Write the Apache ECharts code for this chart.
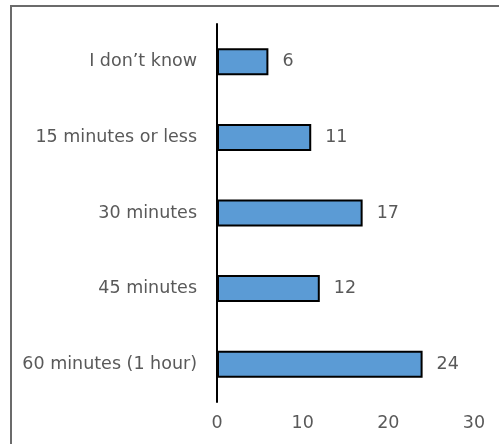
<!DOCTYPE html>
<html>
<head>
<meta charset="utf-8">
<script src="https://cdn.jsdelivr.net/npm/echarts@6/dist/echarts.min.js"></script>
<style>
  html, body { margin: 0; padding: 0; background: #fff; }
  #main { width: 499px; height: 444px; }
</style>
</head>
<body>
<div id="main"></div>
<script>
// categories bottom -> top (category axis goes upward)
var categories = ['60 minutes (1 hour)', '45 minutes', '30 minutes', '15 minutes or less', 'I don\u2019t know'];
var values = [24, 12, 17, 11, 6];
var xTicks = [0, 10, 20, 30];

var chart = echarts.init(document.getElementById('main'));
var font = '"DejaVu Sans", sans-serif';

var option = {
    animation: false,
    backgroundColor: '#fff',
    graphic: [{
        type: 'rect',
        shape: { x: 11, y: 6, width: 600, height: 600 },
        style: { fill: 'none', stroke: '#6b6b6b', lineWidth: 2 },
        silent: true
    }],
    grid: { left: 217, right: 25, top: 24, bottom: 42 },
    xAxis: {
        type: 'value',
        min: xTicks[0],
        max: xTicks[xTicks.length - 1],
        interval: 10,
        axisLine: { show: false },
        axisTick: { show: false },
        splitLine: { show: false },
        axisLabel: { color: '#595959', fontSize: 17.5, fontFamily: font, margin: 12 }
    },
    yAxis: {
        type: 'category',
        data: categories,
        axisLine: { show: true, lineStyle: { color: '#000', width: 2 } },
        axisTick: { show: false },
        axisLabel: { color: '#595959', fontSize: 17.5, fontFamily: font, margin: 20 }
    },
    series: [{
        type: 'bar',
        data: values,
        barWidth: 27,
        itemStyle: { color: '#5B9BD5', borderColor: '#000', borderWidth: 2 },
        label: {
            show: true,
            position: 'right',
            distance: 14,
            color: '#595959',
            fontSize: 17.5,
            fontFamily: font
        }
    }]
};
chart.setOption(option);
</script>
</body>
</html>
